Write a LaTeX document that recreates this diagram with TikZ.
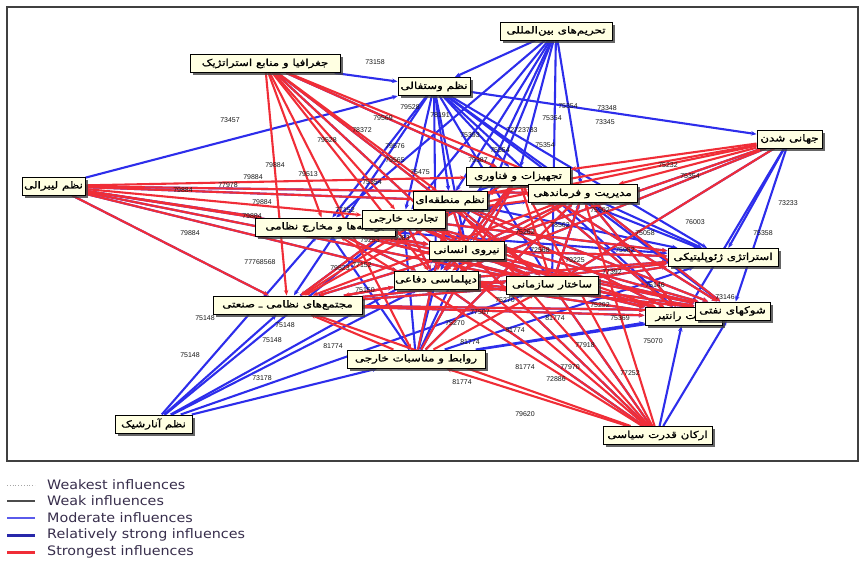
\documentclass[tikz,border=0pt]{standalone}
\usepackage{fontspec}
\setmainfont{Liberation Sans}
\newfontfamily\persianfont[Script=Arabic,FakeStretch=1.25,FakeBold=1.2]{DejaVu Sans}
\newfontfamily\legendfont[FakeStretch=1.1]{DejaVu Sans}
\TeXXeTstate=1
\usetikzlibrary{arrows.meta,shadows}
\pgfdeclarelayer{edges}
\pgfsetlayers{edges,main}
\definecolor{infred}{RGB}{240,45,55}
\definecolor{infblue}{RGB}{45,45,235}
\definecolor{modblue}{RGB}{90,90,235}
\definecolor{legblue}{RGB}{40,40,170}
\definecolor{labelfill}{RGB}{255,255,226}
\definecolor{legtext}{RGB}{55,45,75}
\newcommand{\falabel}[1]{{\beginR #1\endR}}
\tikzset{
    box/.style={
            draw=black,
            line width=1pt,
            fill=labelfill,
            inner sep=1pt, % tight frame round the words
            minimum height=18pt,
            font=\persianfont\fontsize{9.5}{10}\selectfont,
            drop shadow={shadow xshift=2.5pt, shadow yshift=-2.5pt, fill=black!75, opacity=.8}
        }
}
\tikzset{
    num/.style={
            inner sep=0pt,
            text=black!90,
            font=\fontsize{7}{7}\selectfont
        }
}
\tikzset{
    strongest/.style={
            draw=infred,
            line width=2.1pt,
            -{Stealth[length=5.5pt,width=4.5pt]}
        },
    relstrong/.style={
            draw=infblue,
            line width=2.1pt,
            -{Stealth[length=5.5pt,width=4.5pt]}
        }
}
\tikzset{
    lweakest/.style={draw=black!35, line width=0.8pt, dotted},
    lweak/.style={draw=black!70, line width=1.2pt},
    lmoderate/.style={draw=modblue, line width=1.8pt},
    lrelstrong/.style={draw=legblue, line width=3pt},
    lstrongest/.style={draw=infred, line width=3pt},
    legtext/.style={
            anchor=west,
            inner sep=0pt,
            text=legtext,
            font=\legendfont\fontsize{13}{14}\selectfont
        }
}

\begin{document}
\begin{tikzpicture}[x=1pt, y=-1pt]
    \useasboundingbox (0,0) rectangle (865,563);
    \draw[black!75, line width=1.5pt] (7,7) rectangle (858,461);
    %
    % factor boxes
    \foreach \name/\x/\y/\w/\txt in {
        sanc/556/31/112/تحریم‌های بین‌المللی,
        geo/265/63.5/150/جغرافیا و منابع استراتژیک,
        west/434/86.5/72/نظم وستفالی,
        glob/789.5/139/65/جهانی شدن,
        lib/53.5/186/63/نظم لیبرالی,
        equip/518/176.5/104/تجهیزات و فناوری,
        manage/582.5/193.5/109/مدیریت و فرماندهی,
        region/450/200.5/74/نظم منطقه‌ای,
        budget/325/227/140/بودجه‌ها و مخارج نظامی,
        trade/403.5/219/83/تجارت خارجی,
        staff/466.5/250.5/75/نیروی انسانی,
        geostr/723/257.5/110/استراتژی ژئوپلیتیکی,
        diplo/436/280/84/دیپلماسی دفاعی,
        struct/552/285/92/ساختار سازمانی,
        milind/287.5/305/149/مجتمع‌های نظامی ـ صنعتی,
        rentier/683.5/316.5/77/دولت رانتیر,
        oil/732.5/311/75/شوکهای نفتی,
        foreign/416/359/138/روابط و مناسبات خارجی,
        anarch/153.5/424/77/نظم آنارشیک,
        power/657.5/435.5/109/ارکان قدرت سیاسی}
    \node[box, minimum width=\w pt] (\name) at (\x,\y) {\falabel{\txt}};
    %
    \begin{pgfonlayer}{edges}
        % relatively strong influences
        \foreach \s/\ts in {
            sanc/{west,region,trade,budget,equip,manage,staff,diplo,struct},
            west/{region,trade,equip,manage,staff,diplo,struct,milind,budget,glob,oil,rentier,geostr},
            geo/{west,equip,staff,struct},
            lib/{west,manage,budget,milind,diplo,staff,region,struct},
            glob/{geostr,oil,rentier,struct,staff,diplo},
            anarch/{milind,budget,staff,diplo,foreign,struct,trade},
            power/{oil,rentier,struct,staff,diplo},
            foreign/{staff,diplo,oil,rentier,geostr,trade,budget,equip,manage,region},
            equip/{geostr,oil,rentier,staff,region,diplo},
            manage/{geostr,oil,rentier,struct,equip,trade},
            region/{geostr,struct,oil,staff,trade,rentier},
            trade/{geostr,oil,staff,diplo,manage,struct},
            staff/{geostr,rentier,struct,manage,oil},
            diplo/{geostr,oil,rentier,struct,staff},
            struct/{geostr,oil,rentier,manage},
            milind/{staff,struct,rentier,diplo,trade,oil,geostr},
            budget/{staff,struct,geostr,trade,diplo,rentier,oil}}
        {
            \foreach \t in \ts
            \draw[relstrong] (\s) -- (\t);
        }
        % strongest influences
        \foreach \s/\ts in {
            geo/{milind,budget,trade,region,diplo,foreign,manage,staff,struct,equip},
            lib/{equip,region,trade,budget,staff,milind,struct,manage,diplo},
            glob/{equip,manage,region,trade,staff,struct,diplo},
            power/{foreign,milind,diplo,staff,struct,trade,budget,region,manage,equip},
            foreign/{milind,struct,region,equip,manage},
            equip/{struct,diplo,oil,rentier,manage,staff,milind},
            manage/{staff,diplo,milind,rentier,oil,struct,budget},
            region/{diplo,milind,oil,struct,staff,trade,rentier},
            trade/{struct,rentier,oil,diplo,staff,milind,geostr},
            staff/{oil,struct,milind,diplo,rentier,geostr},
            diplo/{oil,rentier,struct,milind,geostr},
            struct/{oil,rentier,geostr},
            milind/{geostr,oil,rentier,struct,diplo},
            budget/{oil,rentier,diplo,struct,staff,trade}}
        {
            \foreach \t in \ts
            \draw[strongest] (\s) -- (\t);
        }
        %
        % influence values
        \foreach \x/\y/\v [count=\k] in {
            375/62/73158, 230/120/73457, 410/107/79528, 383/118/79569,
            362/130/78372, 327/140/79528, 395/146/79576, 568/106/75354,
            607/108/73348, 605/122/73345, 552/118/75354, 522/130/72723783,
            545/145/75354, 275/165/79884, 253/177/79884, 308/174/79513,
            183/190/79884, 228/185/77978, 262/202/79884, 252/216/79884,
            190/233/79884, 260/262/77768568, 668/165/75232, 690/176/75354,
            695/222/76003, 788/203/73233, 763/233/75358, 725/297/73146,
            645/233/75058, 205/318/75148, 285/325/75148, 272/340/75148,
            190/355/75148, 333/346/81774, 262/378/73178, 653/341/75070,
            585/345/77918, 630/373/77252, 525/367/81774, 556/379/72886,
            462/382/81774, 525/414/79620, 570/367/77970, 470/342/81774,
            455/323/75270, 515/330/81774, 600/305/75292, 362/265/77152,
            440/115/78191, 470/135/75393, 500/150/75354, 478/160/79387,
            395/160/79565, 420/172/75475, 372/182/75354, 345/210/77152,
            370/240/79253, 400/238/75983, 525/232/75262, 560/225/78562,
            600/210/75902, 625/250/75982, 612/272/77392, 505/300/75270,
            480/312/77507, 620/318/75369, 555/318/81774, 365/290/75150,
            340/268/79523, 575/260/79225, 655/285/75146, 540/250/72568}
        \node[num] (val\k) at (\x,\y) {\v};
    \end{pgfonlayer}
    %
    % legend
    \foreach \y/\st/\txt [count=\k] in {
        485/lweakest/Weakest influences,
        501/lweak/Weak influences,
        518/lmoderate/Moderate influences,
        535/lrelstrong/Relatively strong influences,
        552/lstrongest/Strongest influences}
    {
        \draw[\st] (7,\y) -- (35,\y);
        \node[legtext] (leg\k) at (47,\y) {\txt};
    }
\end{tikzpicture}
\end{document}
